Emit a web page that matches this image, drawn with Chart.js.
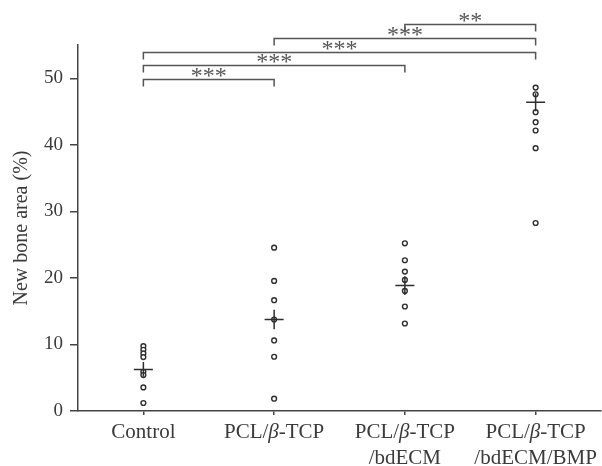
<!DOCTYPE html>
<html>
<head>
<meta charset="utf-8">
<script src="https://cdn.jsdelivr.net/npm/chart.js@4.4.0/dist/chart.umd.js"></script>
<style>
  body { margin: 0; background: #fff; }
  #wrap { width: 602px; height: 466px; position: relative; }
</style>
</head>
<body>
<div id="wrap"><canvas id="chart"></canvas></div>
<script>
// groups and values
const categories = ['Control', 'PCL/β-TCP', 'PCL/β-TCP\n/bdECM', 'PCL/β-TCP\n/bdECM/BMP'];
const controlValues = [9.75, 9.2, 8.65, 8.1, 5.9, 5.4, 3.55, 1.2];
const tcpValues = [24.55, 19.55, 16.65, 13.75, 10.6, 8.15, 1.85];
const ecmValues = [25.2, 22.65, 20.95, 19.7, 18.05, 15.7, 13.15];
const bmpValues = [48.6, 47.6, 44.9, 43.4, 42.15, 39.5, 28.25];
const groupMeans = [6.25, 13.75, 18.85, 46.4];
const groupSem = [1.1, 1.45, 1.4, 1.35];
const yTicks = [0, 10, 20, 30, 40, 50];
// significance brackets: [from group, to group, stars]
const comparisons = [[0, 1, '***'], [0, 2, '***'], [0, 3, '***'], [1, 3, '***'], [2, 3, '**']];

const INK = '#3a3a3a';
const SERIF = "'Liberation Serif', 'Times New Roman', serif";

const allGroups = [controlValues, tcpValues, ecmValues, bmpValues];

const meanPlugin = {
  id: 'meanCross',
  afterDatasetsDraw(chart) {
    const {ctx, scales: {x, y}} = chart;
    ctx.save();
    ctx.strokeStyle = '#2e2e2e';
    ctx.lineWidth = 1.5;
    groupMeans.forEach((m, i) => {
      const px = x.getPixelForValue(i);
      const py = y.getPixelForValue(m);
      ctx.beginPath();
      ctx.moveTo(px - 9.5, py);
      ctx.lineTo(px + 9.5, py);
      ctx.moveTo(px, y.getPixelForValue(m + groupSem[i]));
      ctx.lineTo(px, y.getPixelForValue(m - groupSem[i]));
      ctx.stroke();
    });
    ctx.restore();
  }
};

const bracketPlugin = {
  id: 'brackets',
  afterDraw(chart) {
    const {ctx, scales: {x, y}} = chart;
    const base = 49.9, step = 2.05, leg = 7;
    ctx.save();
    ctx.strokeStyle = '#555';
    ctx.fillStyle = '#555';
    ctx.lineWidth = 1.5;
    ctx.font = '24px ' + SERIF;
    ctx.textAlign = 'center';
    ctx.textBaseline = 'alphabetic';
    comparisons.forEach(([a, b, stars], k) => {
      const x1 = x.getPixelForValue(a);
      const x2 = x.getPixelForValue(b);
      const ly = Math.round(y.getPixelForValue(base + k * step)) + 0.5;
      ctx.beginPath();
      ctx.moveTo(x1, ly + leg);
      ctx.lineTo(x1, ly);
      ctx.lineTo(x2, ly);
      ctx.lineTo(x2, ly + leg);
      ctx.stroke();
      const cx = (x1 + x2) / 2;
      const n = stars.length;
      for (let s = 0; s < n; s++) {
        ctx.fillText('*', cx + (s - (n - 1) / 2) * 12, ly + 3);
      }
    });
    ctx.restore();
  }
};

const labelPlugin = {
  id: 'groupLabels',
  afterDraw(chart) {
    const {ctx, scales: {x}} = chart;
    const size = 21;
    const normal = size + 'px ' + SERIF;
    const italic = 'italic ' + size + 'px ' + SERIF;
    ctx.save();
    ctx.fillStyle = INK;
    ctx.textBaseline = 'alphabetic';
    ctx.textAlign = 'left';
    categories.forEach((label, i) => {
      const cx = x.getPixelForValue(i);
      label.split('\n').forEach((line, li) => {
        const parts = line.split(/(β)/).filter(p => p.length);
        let w = 0;
        parts.forEach(p => { ctx.font = p === 'β' ? italic : normal; w += ctx.measureText(p).width; });
        let px = cx - w / 2;
        const py = 438 + li * 26;
        parts.forEach(p => {
          ctx.font = p === 'β' ? italic : normal;
          ctx.fillText(p, px, py);
          px += ctx.measureText(p).width;
        });
      });
    });
    ctx.restore();
  }
};

const ctx = document.getElementById('chart').getContext('2d');

new Chart(ctx, {
  type: 'scatter',
  data: {
    datasets: allGroups.map((vals, i) => ({
      label: categories[i],
      data: vals.map(v => ({x: i, y: v})),
      pointStyle: 'circle',
      pointRadius: 2.4,
      pointBorderWidth: 1.4,
      pointBorderColor: '#2e2e2e',
      pointBackgroundColor: '#fff',
    })),
  },
  options: {
    responsive: true,
    maintainAspectRatio: false,
    animation: false,
    layout: {autoPadding: false, padding: {top: 45, right: 1, bottom: 0, left: 0}},
    plugins: {
      legend: {display: false},
      tooltip: {enabled: false},
    },
    scales: {
      x: {
        type: 'linear',
        min: -0.5,
        max: 3.5,
        afterBuildTicks: scale => { scale.ticks = categories.map((_, i) => ({value: i})); },
        afterFit: scale => { scale.height = 55; },
        ticks: {display: false},
        grid: {drawOnChartArea: false, drawTicks: true, tickLength: 4, color: '#444', lineWidth: 1.5},
        border: {display: true, color: '#444', width: 1.5},
      },
      y: {
        min: 0,
        max: 55,
        afterBuildTicks: scale => { scale.ticks = yTicks.map(v => ({value: v})); },
        afterFit: scale => { scale.width = 78; },
        ticks: {
          color: INK,
          padding: 7,
          font: {family: SERIF, size: 19},
        },
        grid: {drawOnChartArea: false, drawTicks: true, tickLength: 8, color: '#444', lineWidth: 1.5},
        border: {display: true, color: '#444', width: 1.5},
        title: {
          display: true,
          text: 'New bone area (%)',
          color: INK,
          padding: {top: 10, bottom: 0},
          font: {family: SERIF, size: 20},
        },
      },
    },
  },
  plugins: [meanPlugin, bracketPlugin, labelPlugin],
});
</script>
</body>
</html>
